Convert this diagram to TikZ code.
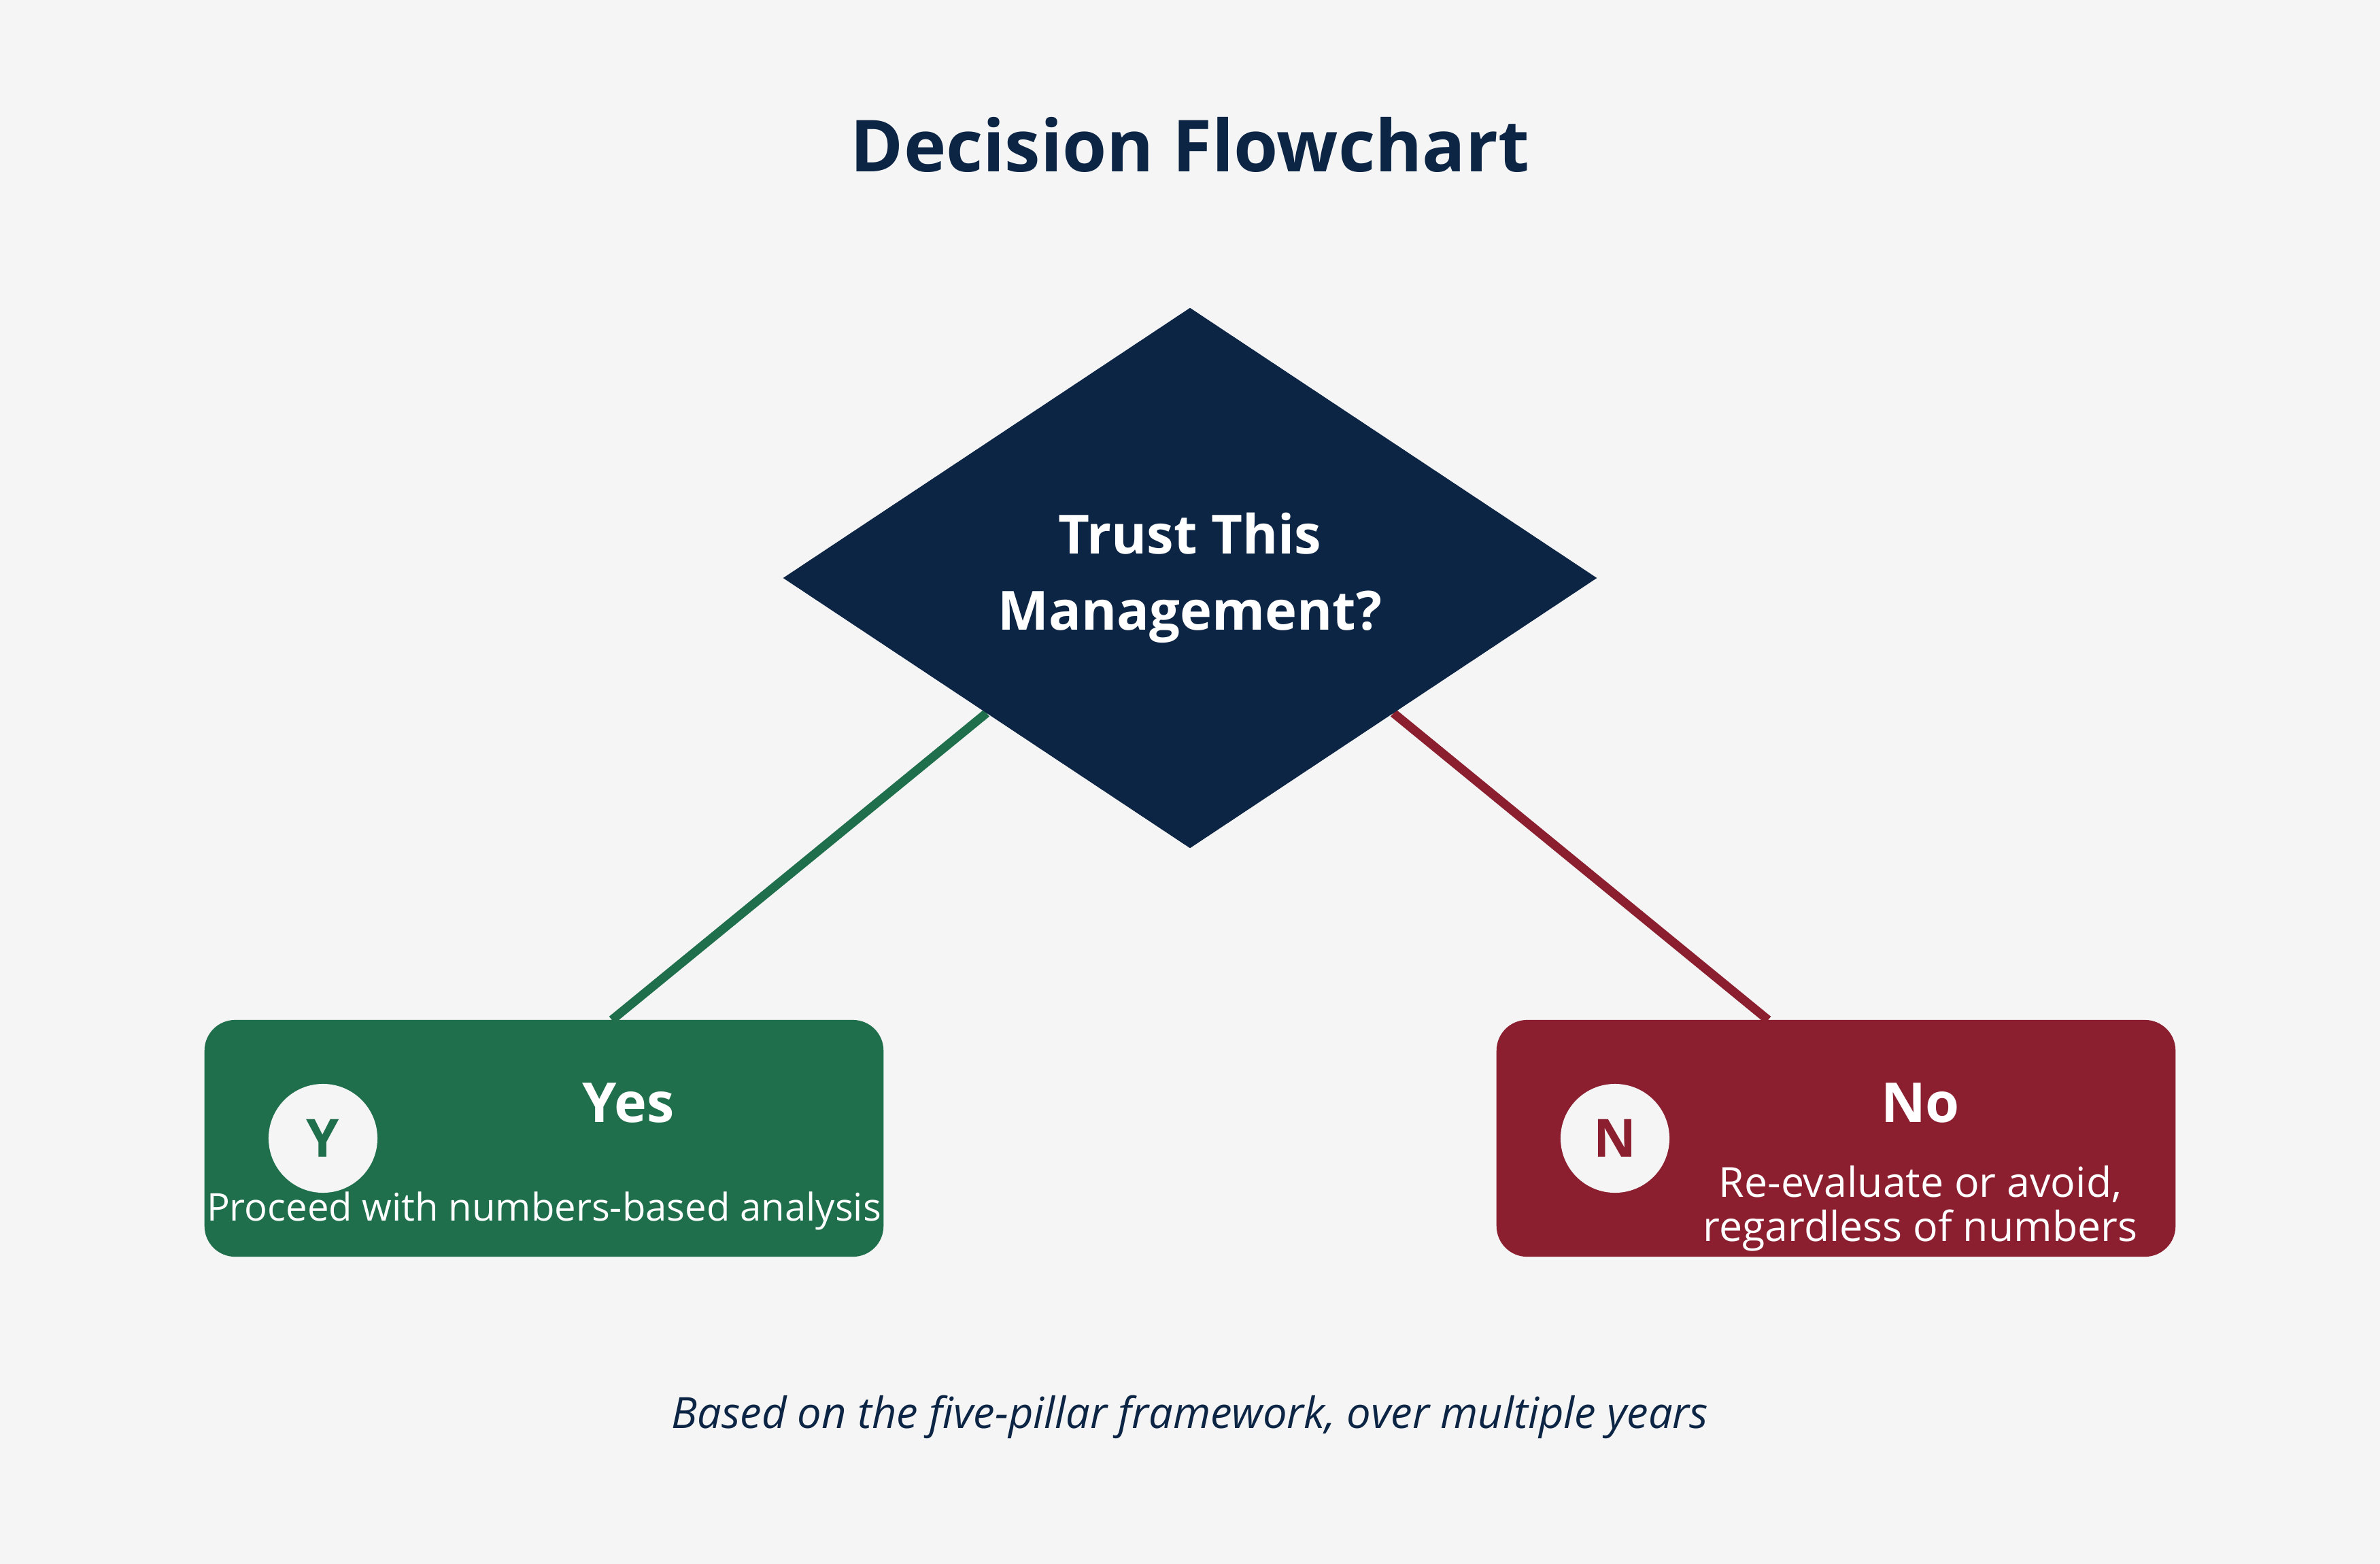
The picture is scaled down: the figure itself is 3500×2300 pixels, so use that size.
\documentclass[tikz,border=0pt]{standalone}
\usepackage{fontspec}
\setmainfont{Open Sans}
\usepackage{tikz}
\usetikzlibrary{calc,shapes.geometric}
\definecolor{bg}{HTML}{F5F5F5}
\definecolor{navy}{HTML}{0D2545}
\definecolor{yesgreen}{HTML}{1F6F4C}
\definecolor{nored}{HTML}{8B1F30}
\pgfdeclarelayer{background}
\pgfsetlayers{background,main}
\tikzset{
  decision/.style={diamond, fill=navy, text=white, inner sep=0pt, outer sep=0pt,
    minimum width=11.96cm, minimum height=7.94cm, align=center,
    font=\fontsize{22.6}{32}\selectfont\bfseries},
  outcome/.style={rounded corners=0.45cm, inner sep=0pt, outer sep=0pt,
    minimum width=9.98cm, minimum height=3.48cm},
  badge/.style={circle, fill=bg, inner sep=0pt, minimum size=1.6cm,
    font=\fontsize{22}{26}\selectfont\bfseries},
  head/.style={text=white, anchor=base, font=\fontsize{23}{28}\selectfont\bfseries},
  desc/.style={text=white, align=center},
  link/.style={line width=0.13cm},
}

\begin{document}
\begin{tikzpicture}[x=0.01cm,y=-0.01cm]
  \begin{pgfonlayer}{background}
    \fill[bg] (0,0) rectangle (3500,2300);
  \end{pgfonlayer}
  \useasboundingbox (0,0) rectangle (3500,2300);

  \node[anchor=base, text=navy, font=\fontsize{30}{36}\selectfont\bfseries] (title) at (1750,252) {Decision Flowchart};

  \node[decision] (q) at (1750,850) {Trust This\\Management?};

  % outcomes
  \node[outcome, fill=yesgreen] (yes) at (800,1674) {};
  \node[badge, text=yesgreen] (ybadge) at (475,1674) {Y};
  \node[head] (yhead) at (924,1650) {Yes};
  \node[desc, anchor=base, font=\fontsize{16}{19}\selectfont] (ydesc) at (800,1795) {Proceed with numbers-based analysis};

  \node[outcome, fill=nored] (no) at (2700,1674) {};
  \node[badge, text=nored] (nbadge) at (2375,1674) {N};
  \node[head] (nhead) at (2824,1650) {No};
  \node[desc, font=\fontsize{17.3}{18.5}\selectfont] (ndesc) at (2824,1777) {Re-evaluate or avoid,\\regardless of numbers};

  \begin{pgfonlayer}{background}
    \draw[link, yesgreen] ($(q.west)!.5!(q.south)$) -- ($(yes.north west)!.6!(yes.north east)$);
    \draw[link, nored] ($(q.east)!.5!(q.south)$) -- ($(no.north east)!.6!(no.north west)$);
  \end{pgfonlayer}

  \node[anchor=base, text=navy, font=\fontsize{18}{21}\selectfont\itshape] (note) at (1750,2100) {Based on the five-pillar framework, over multiple years};
\end{tikzpicture}
\end{document}
